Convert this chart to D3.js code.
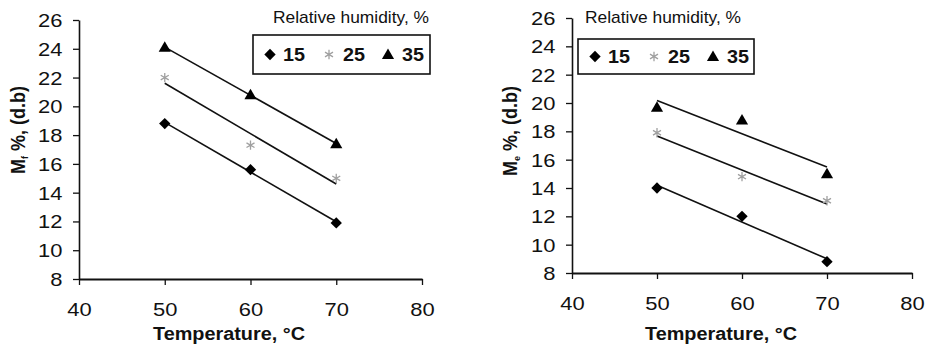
<!DOCTYPE html>
<html><head><meta charset="utf-8">
<script src="https://cdn.jsdelivr.net/npm/d3@7"></script>
<style>body{margin:0;background:#fff} text{font-family:"Liberation Sans",Arial,Helvetica,sans-serif;fill:#111}</style>
</head><body><svg id="c" width="926" height="349"></svg>
<script>
// ---- data ----
const temperatures = [50, 60, 70];
const humidityLevels = ["15", "25", "35"];
const mfValues15 = [18.8, 15.6, 11.9];
const mfValues25 = [22.0, 17.3, 15.0];
const mfValues35 = [24.1, 20.8, 17.4];
const meValues15 = [14.0, 12.0, 8.8];
const meValues25 = [17.9, 14.8, 13.1];
const meValues35 = [19.7, 18.8, 15.0];
const xTicks = [40, 50, 60, 70, 80];
const yTicks = [8, 10, 12, 14, 16, 18, 20, 22, 24, 26];
const xTitle = "Temperature, °C";
const legendTitle = "Relative humidity, %";

const svg = d3.select("#c");
const SX = 1.22; // horizontal stretch of the scanned tick text

const panels = [
  {x0: 79, x1: 422, yb: 279, yt: 20, sub: "f", series: [mfValues15, mfValues25, mfValues35],
   box: {x: 253, y: 35, w: 177, h: 39}, ltx: 273, lty: 23, ytX: 25, ytY: 130, xtX: 153},
  {x0: 572, x1: 912, yb: 273, yt: 18, sub: "e", series: [meValues15, meValues25, meValues35],
   box: {x: 578, y: 39, w: 176, h: 35}, ltx: 585, lty: 23, ytX: 517, ytY: 131, xtX: 645}
];

const diamond = d3.symbol().type(d3.symbolSquare).size(64);
const triangle = d3.symbol().type(d3.symbolTriangle).size(64);
const star = d3.symbol().type(d3.symbolAsterisk).size(60);

function drawMarker(g, k, cx, cy) {
  if (k === 0) {
    g.append("path").attr("d", diamond()).attr("fill", "#000")
      .attr("transform", `translate(${cx},${cy}) rotate(45)`);
  } else if (k === 1) {
    g.append("path").attr("d", star()).attr("fill", "none").attr("stroke", "#a0a0a0").attr("stroke-width", 1.3)
      .attr("transform", `translate(${cx},${cy})`);
  } else {
    g.append("path").attr("d", triangle()).attr("fill", "#000")
      .attr("transform", `translate(${cx},${cy + 1})`);
  }
}

function fit(xs, ys) {
  const mx = d3.mean(xs), my = d3.mean(ys);
  const b = d3.sum(xs, (x, i) => (x - mx) * (ys[i] - my)) / d3.sum(xs, x => (x - mx) ** 2);
  return {b, a: my - b * mx};
}

panels.forEach(p => {
  const x = d3.scaleLinear().domain([40, 80]).range([p.x0, p.x1]);
  const y = d3.scaleLinear().domain([8, 26]).range([p.yb, p.yt]);
  const g = svg.append("g");

  // y axis
  const ya = g.append("g").attr("transform", `translate(${p.x0},0)`)
    .call(d3.axisLeft(y).tickValues(yTicks).tickSize(6).tickSizeOuter(0));
  ya.attr("font-size", null).attr("font-family", null);
  ya.select(".domain").attr("stroke", "#111").attr("stroke-width", 1.6);
  ya.selectAll(".tick line").attr("stroke", "#111").attr("stroke-width", 1.3);
  ya.selectAll(".tick text").style("font-size", "18px")
    .attr("x", -16.5 / SX).attr("dy", "0.36em").attr("transform", `scale(${SX},1)`);

  // x axis
  const xa = g.append("g").attr("transform", `translate(0,${p.yb})`)
    .call(d3.axisBottom(x).tickValues(xTicks).tickSize(6).tickSizeOuter(0));
  xa.attr("font-size", null).attr("font-family", null);
  xa.select(".domain").attr("stroke", "#111").attr("stroke-width", 2.2);
  xa.selectAll(".tick line").attr("stroke", "#111").attr("stroke-width", 1.3);
  xa.selectAll(".tick text").style("font-size", "18px")
    .attr("y", 24).attr("dy", "0.71em").attr("transform", `scale(${SX},1)`);

  // trend lines + markers
  p.series.forEach((vals) => {
    const f = fit(temperatures, vals);
    const t0 = d3.min(temperatures), t1 = d3.max(temperatures);
    g.append("line").attr("x1", x(t0)).attr("y1", y(f.a + f.b * t0))
      .attr("x2", x(t1)).attr("y2", y(f.a + f.b * t1))
      .attr("stroke", "#111").attr("stroke-width", 1.6);
  });
  p.series.forEach((vals, k) => {
    vals.forEach((v, i) => drawMarker(g, k, x(temperatures[i]), y(v)));
  });

  // legend
  g.append("text").text(legendTitle).style("font-size", "17px")
    .attr("x", p.ltx).attr("y", p.lty).attr("textLength", 156).attr("lengthAdjust", "spacingAndGlyphs");
  g.append("rect").attr("x", p.box.x).attr("y", p.box.y).attr("width", p.box.w).attr("height", p.box.h)
    .attr("fill", "none").attr("stroke", "#111").attr("stroke-width", 1.6);
  const cy = p.box.y + p.box.h / 2;
  const offs = [[17, 30], [76, 90], [135, 149]];
  humidityLevels.forEach((lab, k) => {
    drawMarker(g, k, p.box.x + offs[k][0], cy);
    g.append("text").text(lab).style("font-size", "18px").style("font-weight", "bold")
      .attr("x", p.box.x + offs[k][1]).attr("y", cy + 6.5)
      .attr("textLength", 22).attr("lengthAdjust", "spacingAndGlyphs");
  });

  // axis titles
  g.append("text").text(xTitle).style("font-size", "18px").style("font-weight", "bold")
    .attr("x", p.xtX).attr("y", 340).attr("textLength", 152).attr("lengthAdjust", "spacingAndGlyphs");
  const yt = g.append("text").style("font-size", "18px").style("font-weight", "bold").attr("text-anchor", "middle")
    .attr("transform", `translate(${p.ytX},${p.ytY}) scale(1.1,1) rotate(-90)`);
  yt.append("tspan").text("M");
  yt.append("tspan").text(p.sub).style("font-size", "9px").attr("dy", 3);
  yt.append("tspan").text(" %, (d.b)").attr("dy", -3);
});
</script></body></html>
